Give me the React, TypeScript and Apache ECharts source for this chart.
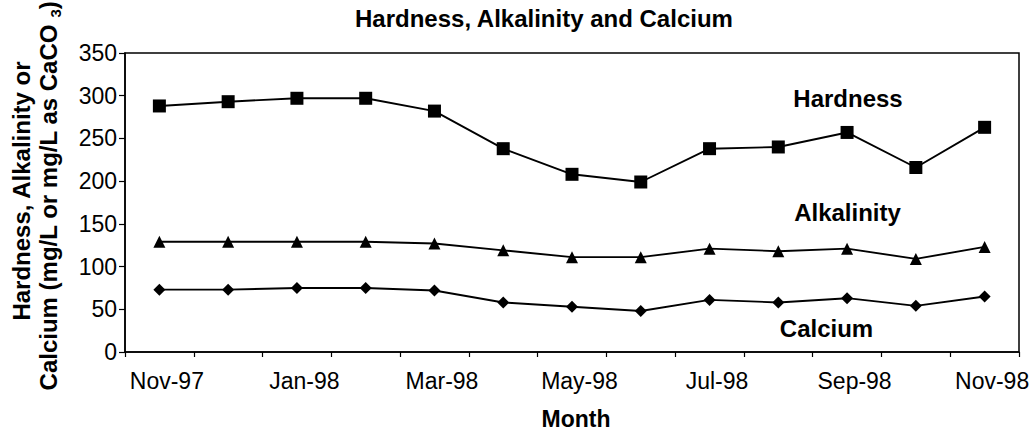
import React, { useEffect, useRef } from "react";
import * as echarts from "echarts";

const months = ["Nov-97", "Dec-97", "Jan-98", "Feb-98", "Mar-98", "Apr-98", "May-98", "Jun-98", "Jul-98", "Aug-98", "Sep-98", "Oct-98", "Nov-98"];
const hardness = [288, 293, 297, 297, 282, 238, 208, 199, 238, 240, 257, 216, 263];
const alkalinity = [129, 129, 129, 129, 127, 119, 111, 111, 121, 118, 121, 109, 123];
const calcium = [73, 73, 75, 75, 72, 58, 53, 48, 61, 58, 63, 54, 65];
const yTicks = { min: 0, max: 350, interval: 50 };

const FONT = "'Liberation Sans', Arial, sans-serif";

export default function App() {
  const ref = useRef<HTMLDivElement>(null);
  useEffect(() => {
    if (!ref.current) return;
    const chart = echarts.init(ref.current, undefined, { renderer: "svg" });
    const lineSeries = (name: string, data: number[], symbol: string, size: number) => ({
      name,
      type: "line",
      data,
      symbol,
      symbolSize: size,
      showAllSymbol: true,
      itemStyle: { color: "#000" },
      lineStyle: { color: "#000", width: 1.9 },
      emphasis: { disabled: true },
    });
    chart.setOption({
      animation: false,
      backgroundColor: "#fff",
      textStyle: { fontFamily: FONT, color: "#000" },
      title: {
        text: "Hardness, Alkalinity and Calcium",
        left: 355,
        top: 6,
        padding: 0,
        textStyle: { fontFamily: FONT, fontSize: 24, fontWeight: "bold", color: "#000" },
      },
      grid: {
        left: 125,
        right: 17,
        top: 53,
        bottom: 84,
        show: true,
        borderColor: "#000",
        borderWidth: 1.5,
        backgroundColor: "transparent",
      },
      xAxis: {
        type: "category",
        data: months,
        boundaryGap: true,
        name: "Month",
        nameLocation: "middle",
        nameGap: 55,
        nameTextStyle: { fontFamily: FONT, fontSize: 23, fontWeight: "bold", color: "#000", padding: [0, 0, 0, 8] },
        axisLine: { show: true, lineStyle: { color: "#000", width: 1.5 } },
        axisTick: { show: true, interval: 0, inside: false, length: 5, lineStyle: { color: "#000", width: 1.2 } },
        axisLabel: { interval: 1, margin: 17, fontSize: 23, color: "#000", fontFamily: FONT, padding: [0, 0, 0, 15] },
        splitLine: { show: false },
      },
      yAxis: {
        type: "value",
        min: yTicks.min,
        max: yTicks.max,
        interval: yTicks.interval,
        axisLine: { show: true, lineStyle: { color: "#000", width: 1.5 } },
        axisTick: { show: true, inside: false, length: 6, lineStyle: { color: "#000", width: 1.2 } },
        axisLabel: { margin: 8, fontSize: 23, color: "#000", fontFamily: FONT, padding: [6, 0, 0, 0] },
        splitLine: { show: false },
      },
      series: [
        lineSeries("Hardness", hardness, "rect", 13),
        lineSeries("Alkalinity", alkalinity, "triangle", 12),
        lineSeries("Calcium", calcium, "diamond", 12),
      ],
      graphic: [
        {
          type: "text",
          x: 21,
          y: 191,
          rotation: Math.PI / 2,
          style: {
            text: "Hardness, Alkalinity or",
            font: `bold 24px ${FONT}`,
            fill: "#000",
            align: "center",
            verticalAlign: "middle",
          },
        },
        {
          type: "text",
          x: 48,
          y: 196,
          rotation: Math.PI / 2,
          style: {
            text: "Calcium (mg/L or mg/L as CaCO {sub|3})",
            font: `bold 24px ${FONT}`,
            fill: "#000",
            align: "center",
            verticalAlign: "middle",
            rich: {
              sub: { fontSize: 15, fontWeight: "bold", fontFamily: FONT, padding: [14, 0, 0, 0], fill: "#000" },
            },
          },
        },
        {
          type: "text",
          x: 848,
          y: 98,
          style: { text: "Hardness", font: `bold 24px ${FONT}`, fill: "#000", align: "center", verticalAlign: "middle" },
        },
        {
          type: "text",
          x: 847.5,
          y: 212,
          style: { text: "Alkalinity", font: `bold 24px ${FONT}`, fill: "#000", align: "center", verticalAlign: "middle" },
        },
        {
          type: "text",
          x: 826.5,
          y: 328.5,
          style: { text: "Calcium", font: `bold 24px ${FONT}`, fill: "#000", align: "center", verticalAlign: "middle" },
        },
      ],
    });
    return () => chart.dispose();
  }, []);
  return (
    <div
      ref={ref}
      style={{ position: "fixed", left: 0, top: 0, width: 1036, height: 436, background: "#fff" }}
    />
  );
}
